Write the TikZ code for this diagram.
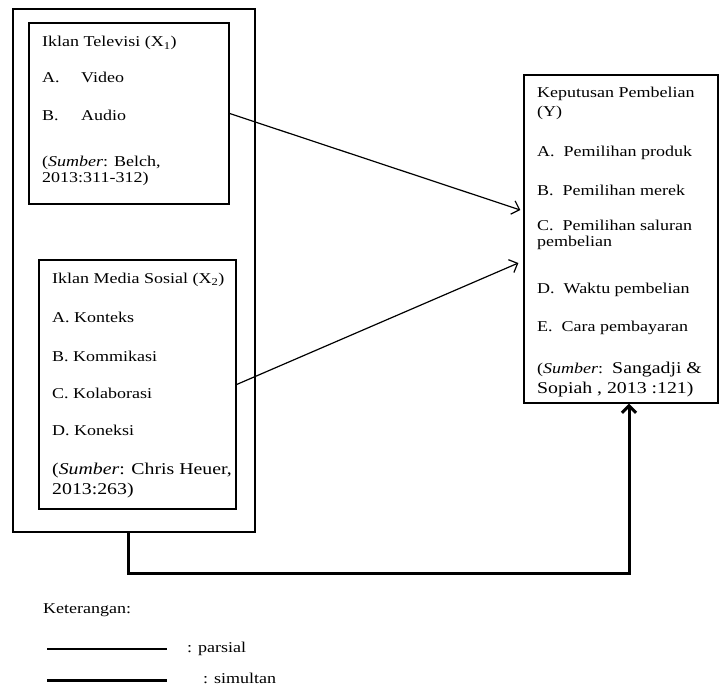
\documentclass[tikz,border=0pt]{standalone}
\usepackage{fontspec}
\setmainfont{Liberation Serif}[FakeStretch=1.2]
\usepackage{tikz}
\usetikzlibrary{arrows.meta}

\begin{document}
\begin{tikzpicture}[x=1pt, y=-1pt,
            box/.style={draw, rectangle, line width=1.3pt, inner sep=0pt},
            txt/.style={anchor=base west, inner sep=0pt, font=\fontsize{15}{15}\selectfont},
            bigtxt/.style={anchor=base west, inner sep=0pt, font=\fontsize{16.5}{16.5}\selectfont},
            thinline/.style={draw, line width=1.2pt},
            thickline/.style={draw, line width=3pt},
            barb/.style={-{Straight Barb[length=7pt,width=14pt]}}
        ]
            \useasboundingbox (0,0) rectangle (723,693);

            % Outer frame (X1 and X2 together)
            \node (outer) at (134,270.5) [box, minimum width=242pt, minimum height=523pt] {};

            % Iklan Televisi
            \node (tv) at (129,113.5) [box, minimum width=200pt, minimum height=181pt] {};
            \node (tvT) at (42,47) [txt] {Iklan Televisi (X\textsubscript{1})};
            \node (tvA) at (42,83) [txt] {A.};
            \node (tvAv) at (81,83) [txt] {Video};
            \node (tvB) at (42,121) [txt] {B.};
            \node (tvBv) at (81,121) [txt] {Audio};
            \node (tvS1) at (42,166) [txt] {(\textit{Sumber}: Belch,};
            \node (tvS2) at (42,182) [txt] {2013:311-312)};

            % Iklan Media Sosial
            \node (sm) at (137.5,384.5) [box, minimum width=197pt, minimum height=249pt] {};
            \node (smT) at (52,283) [txt] {Iklan Media Sosial (X\textsubscript{2})};
            \node (smA) at (52,322) [txt] {A. Konteks};
            \node (smB) at (52,361) [txt] {B. Kommikasi};
            \node (smC) at (52,398) [txt] {C. Kolaborasi};
            \node (smD) at (52,435) [txt] {D. Koneksi};
            \node (smS1) at (52,474) [bigtxt] {(\textit{Sumber}: Chris Heuer,};
            \node (smS2) at (52,494) [bigtxt] {2013:263)};

            % Keputusan Pembelian
            \node (kp) at (621,239) [box, minimum width=194pt, minimum height=328pt] {};
            \node (kpT1) at (537,98) [txt] {Keputusan Pembelian};
            \node (kpT2) at (537,117) [txt] {(Y)};
            \node (kpA) at (537,156) [txt] {A.\ \ Pemilihan produk};
            \node (kpB) at (537,195) [txt] {B.\ \ Pemilihan merek};
            \node (kpC1) at (537,230) [txt] {C.\ \ Pemilihan saluran};
            \node (kpC2) at (537,246) [txt] {pembelian};
            \node (kpD) at (537,293) [txt] {D.\ \ Waktu pembelian};
            \node (kpE) at (537,331) [txt] {E.\ \ Cara pembayaran};
            \node (kpS1) at (537,373) [txt] {(\textit{Sumber}:\ \ {\fontsize{16.5}{16.5}\selectfont Sangadji \&}};
            \node (kpS2) at (537,393) [bigtxt] {Sopiah , 2013 :121)};

            % Partial arrows
            \coordinate (in1) at ([xshift=-3pt, yshift=29pt]kp.west);
            \coordinate (in2) at ([xshift=-5pt, yshift=-24pt]kp.west);
            \draw [thinline, barb] (tv.east) -- (in1);
            \draw [thinline, barb] (sm.east) -- (in2);

            % Simultaneous arrow
            \draw [thickline, barb] ([xshift=-6pt]outer.south) -- ++(0,41) -| ([xshift=8pt]kp.south);

            % Legend
            \node (ket) at (43,613) [txt] {Keterangan:};
            \coordinate (lg1) at (47,649);
            \coordinate (lg2) at (47,680);
            \draw [thinline] (lg1) -- ++(120,0);
            \draw [thickline] (lg2) -- ++(120,0);
            \node (lgP) at (187,652) [txt] {: parsial};
            \node (lgS) at (203,683) [txt] {: simultan};
        \end{tikzpicture}
\end{document}
